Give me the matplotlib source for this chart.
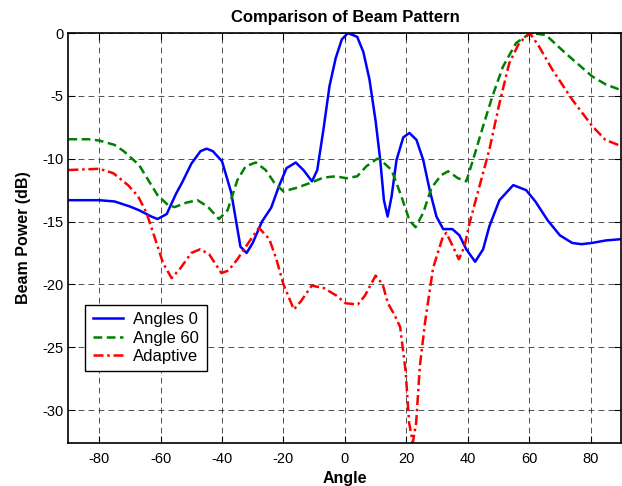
import matplotlib.pyplot as plt
import numpy as np

plt.rcParams['font.family'] = ['Liberation Sans', 'DejaVu Sans']
plt.rcParams['axes.unicode_minus'] = False

# Angles 0
ang0_x = [-90, -80, -75, -70, -67, -63, -61, -58, -55, -53, -50, -47, -45, -43, -40, -37, -34, -32, -30, -27,
          -24, -21.5, -19, -16, -13.5, -10.7, -9, -7, -5, -3, -1, 1, 4, 6, 8, 10, 11.5, 12.7, 13.9, 15.2,
          16.8, 19, 21, 23.3, 25.5, 27.6, 29.8, 32, 35, 37.3, 39.5, 42.4, 45, 47, 50.3, 54.8, 59, 62, 66, 70,
          74, 77, 80.5, 85, 90]
ang0_y = [-13.3, -13.3, -13.4, -13.8, -14.1, -14.6, -14.8, -14.4, -12.8, -11.9, -10.4, -9.4, -9.2, -9.4, -10.2, -12.7, -17.0, -17.5, -16.7, -15.0,
          -13.9, -12.2, -10.75, -10.3, -10.9, -11.8, -10.9, -7.7, -4.2, -2.0, -0.5, 0.0, -0.3, -1.5, -3.7, -7.0, -10.1, -13.3, -14.6, -13.0,
          -10.1, -8.3, -7.95, -8.5, -10.1, -12.5, -14.6, -15.6, -15.6, -16.1, -17.2, -18.2, -17.2, -15.4, -13.3, -12.1, -12.5, -13.4, -14.9, -16.1,
          -16.7, -16.8, -16.7, -16.5, -16.4]

# Angle 60
ang60_x = [-90, -83.5, -80, -75, -72, -67, -64, -61, -57.5, -55.4, -51.7, -48, -44.7, -41, -38.2, -35, -32.3, -29, -25.8, -23,
           -20, -15.5, -11, -7, -3, 0.5, 4, 7, 10.5, 11.4, 15.2, 18.4, 21, 23, 25.5, 28.2, 31.4, 33.6, 36.8, 39.5,
           41.7, 45, 48, 51.4, 55.7, 60.4, 65.4, 71.8, 80.5, 85, 90]
ang60_y = [-8.45, -8.45, -8.55, -8.9, -9.4, -10.5, -11.7, -12.9, -13.7, -13.85, -13.5, -13.3, -13.8, -14.8, -14.1, -11.7, -10.6, -10.3, -10.9, -11.9,
           -12.6, -12.3, -11.9, -11.5, -11.4, -11.55, -11.4, -10.6, -10.0, -10.05, -10.9, -13.0, -14.9, -15.45, -14.3, -12.3, -11.3, -11.0, -11.55, -11.8,
           -10.1, -7.4, -5.05, -2.7, -0.8, 0.0, -0.15, -1.6, -3.45, -4.1, -4.55]

# Adaptive
adp_x = [-90, -80, -75.4, -70.6, -67.3, -64.6, -62, -59.2, -56.4, -53.5, -50, -47.1, -44.2, -40.2, -37.9, -35, -32, -28, -24.6, -22.3,
         -20, -16.6, -14.2, -10.8, -6.8, -2.7, 0.2, 4.2, 6.5, 10, 12.3, 14, 16.3, 18, 19.8, 20.9, 22.1, 23.2, 24.4, 26.1,
         28.7, 31.9, 33, 35.2, 37.1, 38.9, 40.6, 43.8, 47, 50.3, 53.5, 56.7, 60.2, 63.2, 67.5, 74, 80.5, 84.8, 90]
adp_y = [-10.9, -10.8, -11.15, -12.1, -13.0, -14.3, -16.2, -18.3, -19.5, -18.7, -17.5, -17.2, -17.6, -19.1, -18.9, -18.0, -16.9, -15.5, -16.4, -18.0,
         -20.0, -22.0, -21.3, -20.1, -20.3, -20.9, -21.5, -21.6, -20.9, -19.3, -20.0, -21.5, -22.5, -23.4, -27.0, -31.0, -32.6, -31.0, -26.5, -23.0,
         -18.7, -16.2, -15.9, -17.0, -18.0, -17.0, -15.1, -12.2, -9.3, -5.6, -2.4, -0.8, 0.0, -1.07, -2.9, -5.3, -7.4, -8.5, -9.0]

xticks = [-80, -60, -40, -20, 0, 20, 40, 60, 80]
yticks = [0, -5, -10, -15, -20, -25, -30]

fig = plt.figure(figsize=(6.22, 4.86), dpi=100)
ax = fig.add_axes([0.110, 0.089, 0.889, 0.843])

ax.plot(ang0_x, ang0_y, '-', color='#0000ff', lw=1.8, label='Angles 0')
ax.plot(ang60_x, ang60_y, '--', color='#008000', lw=1.8, label='Angle 60', dashes=(3.5, 1.8))
ax.plot(adp_x, adp_y, '-.', color='#ff0000', lw=1.8, label='Adaptive', dashes=(4, 1.5, 1, 1.5))

ax.set_xlim(-90, 90)
ax.set_ylim(-32.6, 0)
ax.set_xticks(xticks)
ax.set_yticks(yticks)
ax.grid(True, color='0.2', linestyle=(0, (7, 5)), linewidth=0.6)
ax.tick_params(direction='in', top=True, right=True, labelsize=10.5, length=5)
ax.tick_params(axis='x', pad=7)
for s in ax.spines.values():
    s.set_linewidth(1.2)

ax.set_xlabel('Angle', fontweight='bold', fontsize=11.5, labelpad=3)
ax.set_ylabel('Beam Power (dB)', fontweight='bold', fontsize=11.5, labelpad=8)
ax.set_title('Comparison of Beam Pattern', fontweight='bold', fontsize=12, pad=8)

leg = ax.legend(loc='lower left', bbox_to_anchor=(0.030, 0.174), fontsize=12, fancybox=False,
                edgecolor='black', framealpha=1, borderaxespad=0, handlelength=1.8,
                handletextpad=0.65, labelspacing=0.2, borderpad=0.45)
leg.get_frame().set_linewidth(1.0)

fig.savefig('out.png', dpi=100)
